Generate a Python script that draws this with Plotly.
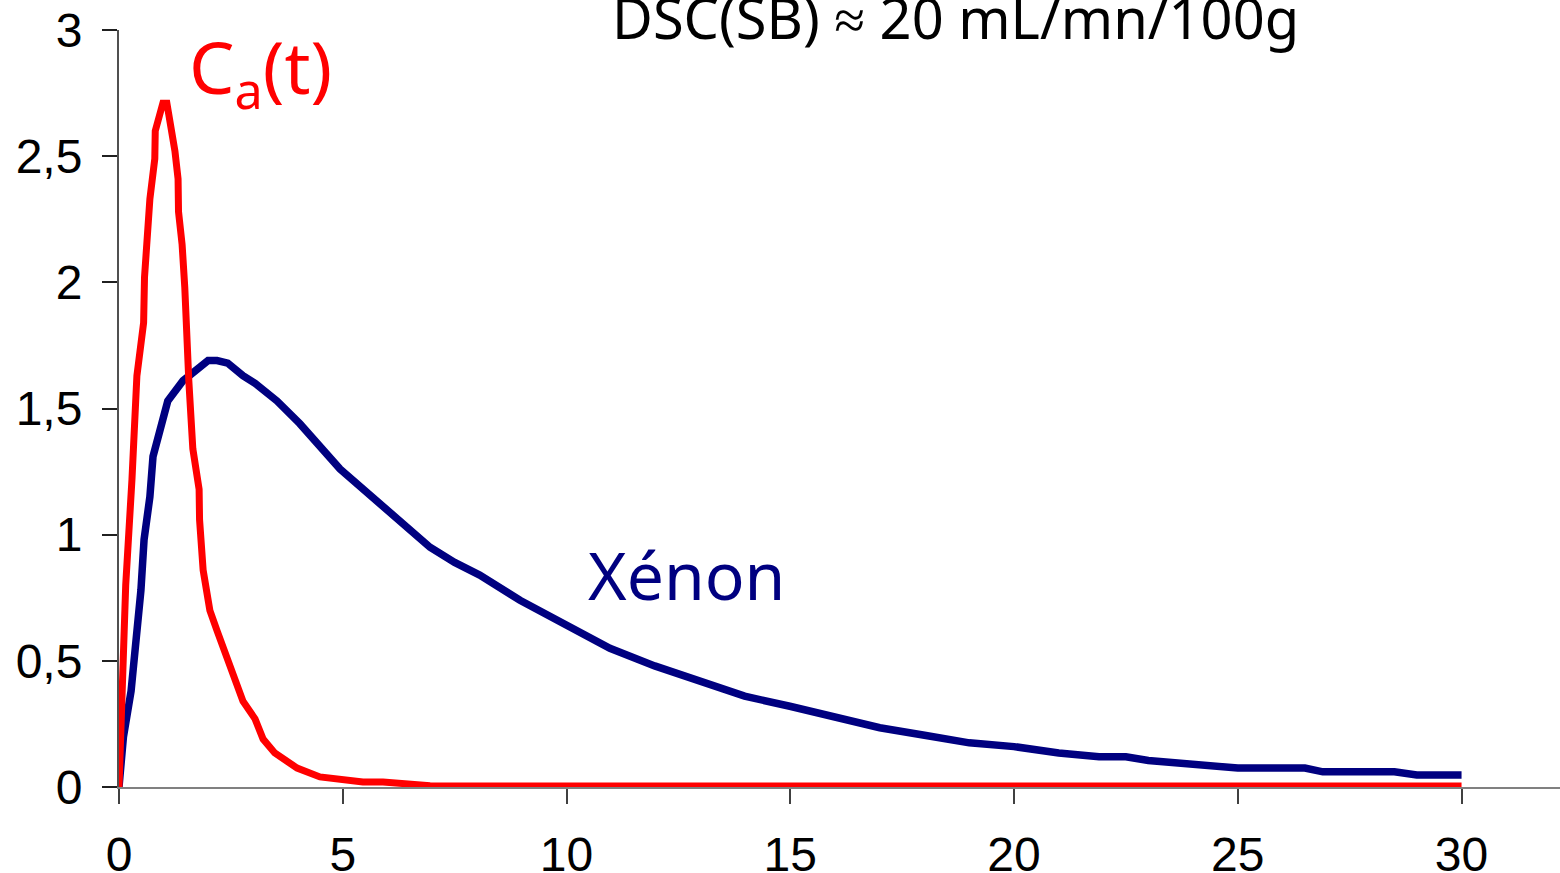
import plotly.graph_objects as go

# Arterial input curve Ca(t)
ca_t = [0, 0.15, 0.29, 0.40, 0.55, 0.57, 0.69, 0.80, 0.81, 0.92, 0.98, 1.07, 1.16, 1.25,
        1.32, 1.33, 1.41, 1.47, 1.56, 1.65, 1.79, 1.80, 1.88, 2.03, 2.19, 2.46, 2.77, 3.04,
        3.22, 3.48, 3.98, 4.49, 5.0, 5.45, 5.9, 6.95, 8, 10, 15, 20, 25, 30]
ca_v = [0, 0.80, 1.22, 1.63, 1.84, 2.02, 2.33, 2.49, 2.60, 2.69, 2.71, 2.71, 2.62, 2.52,
        2.41, 2.28, 2.15, 1.98, 1.61, 1.34, 1.18, 1.06, 0.86, 0.70, 0.62, 0.48, 0.34, 0.27,
        0.19, 0.135, 0.075, 0.04, 0.028, 0.02, 0.02, 0.005, 0.004, 0.004, 0.004, 0.004, 0.004, 0.004]

# Tissue xenon curve
xe_t = [0, 0.10, 0.27, 0.40, 0.49, 0.56, 0.69, 0.76, 0.92, 1.09, 1.43, 1.76, 1.99, 2.19,
        2.43, 2.77, 3.04, 3.53, 4.04, 4.94, 5.99, 6.95, 7.5, 8.06, 8.96, 9.98, 10.97, 11.97,
        12.98, 13.98, 14.99, 15.99, 17.0, 18.0, 19.0, 20.0, 21.0, 21.9, 22.5, 23.0, 25.0,
        26.5, 26.9, 28.5, 29.0, 30.0]
xe_v = [0, 0.20, 0.38, 0.58, 0.78, 0.98, 1.15, 1.31, 1.41, 1.53, 1.61, 1.66, 1.69, 1.69,
        1.68, 1.63, 1.60, 1.53, 1.44, 1.26, 1.10, 0.95, 0.89, 0.84, 0.74, 0.64, 0.55, 0.48,
        0.42, 0.36, 0.32, 0.28, 0.235, 0.205, 0.175, 0.16, 0.135, 0.12, 0.12, 0.105, 0.075,
        0.075, 0.06, 0.06, 0.048, 0.048]

x_ticks = [0, 5, 10, 15, 20, 25, 30]
y_ticks = [0, 0.5, 1, 1.5, 2, 2.5, 3]
y_tick_text = ["0", "0,5", "1", "1,5", "2", "2,5", "3"]

RED = "#ff0000"
NAVY = "#000080"
HAND = "Noto Sans"

fig = go.Figure()
fig.add_trace(go.Scatter(x=xe_t, y=xe_v, mode="lines",
                         line=dict(color=NAVY, width=7.5), hoverinfo="skip"))
fig.add_trace(go.Scatter(x=ca_t, y=ca_v, mode="lines",
                         line=dict(color=RED, width=7), hoverinfo="skip"))

fig.update_layout(
    width=1560, height=873,
    margin=dict(l=119, r=0, t=30, b=86),
    paper_bgcolor="white", plot_bgcolor="white",
    showlegend=False,
    font=dict(family="Liberation Sans, Arial", color="black"),
    xaxis=dict(range=[0, 32.2], tickvals=x_ticks, showgrid=False, zeroline=False,
               automargin=False,
               showline=True, linecolor="#808080", linewidth=2,
               ticks="outside", ticklen=15, tickwidth=1.5, tickcolor="#404040",
               tickfont=dict(size=48), ticklabelstandoff=9),
    yaxis=dict(range=[0, 3], tickvals=y_ticks, ticktext=y_tick_text, showgrid=False,
               automargin=False,
               zeroline=False, showline=True, linecolor="#505050", linewidth=2,
               ticks="outside", ticklen=15, tickwidth=1.5, tickcolor="#202020",
               tickfont=dict(size=48), ticklabelstandoff=10),
)

# curve labels and header
fig.add_annotation(text="C<sub>a</sub>(t)", xref="x", yref="y",
                   x=(187 - 119) / 44.77, y=(787 - 126) / 252.3,
                   xanchor="left", yanchor="bottom", showarrow=False,
                   font=dict(family=HAND, size=72, color=RED))

fig.add_annotation(text="DSC(SB) ≈ 20 mL/mn/100g", xref="paper", yref="paper",
                   x=(955 - 119) / 1441, y=(787 - 17) / 757,
                   xanchor="center", yanchor="middle", showarrow=False,
                   font=dict(family=HAND, size=56, color="black"))

fig.add_annotation(text="Xénon", xref="x", yref="y",
                   x=(586 - 119) / 44.77, y=(787 - 527) / 252.3,
                   xanchor="left", yanchor="top", valign="top", height=75,
                   showarrow=False,
                   font=dict(family=HAND, size=66, color=NAVY))

fig.write_html("out.html")
